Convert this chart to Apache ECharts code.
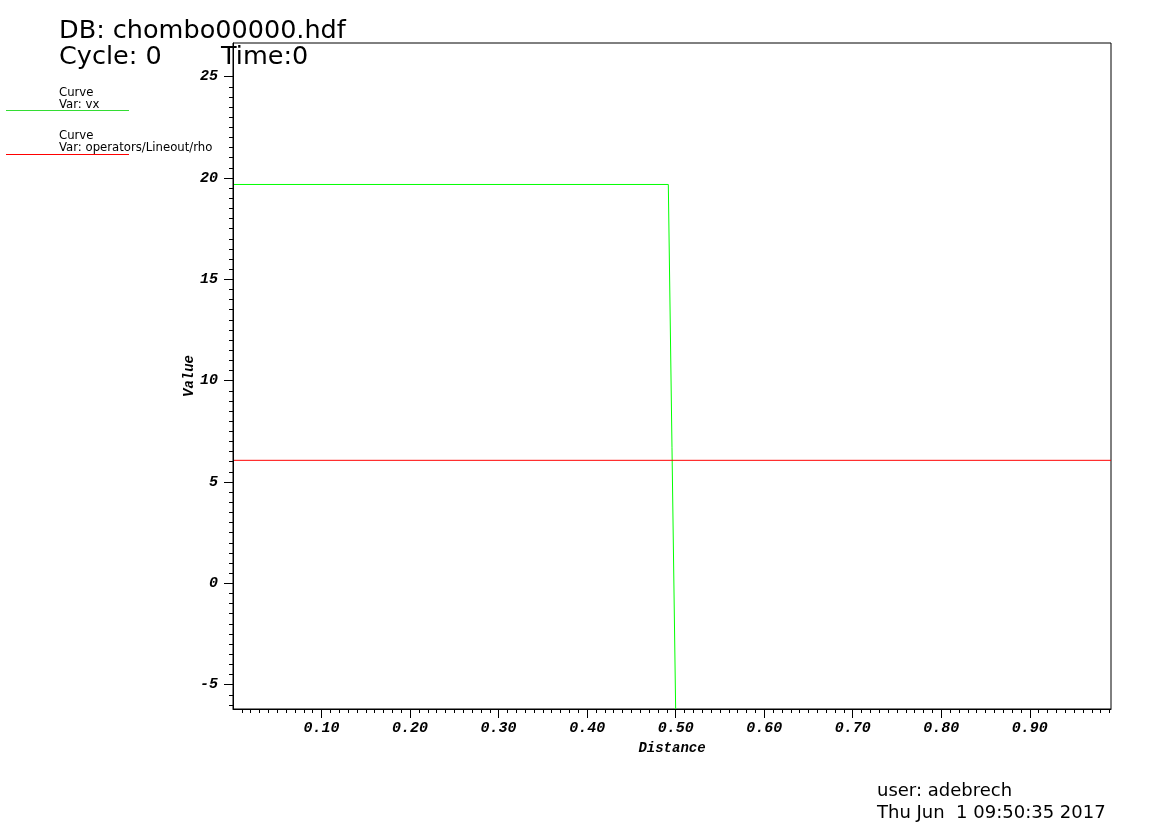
<!DOCTYPE html>
<html>
<head>
<meta charset="utf-8">
<script src="https://cdn.jsdelivr.net/npm/echarts@6/dist/echarts.min.js"></script>
<style>
html,body{margin:0;padding:0;background:#fff;}
#chart{width:1171px;height:834px;}
</style>
</head>
<body>
<div id="chart"></div>
<script>
// ---- data ----
const vxDistance = [0, 0.4917, 0.5, 0.9917];
const vxValues = [19.68, 19.68, -6.3, -6.3];
const rhoDistance = [0, 0.9917];
const rhoValues = [6.07, 6.07];

// ---- axes / ticks ----
const xMin = 0, xMax = 0.9917;
const yMin = -6.2, yMax = 26.66;
const xMajorTicks = [0.1, 0.2, 0.3, 0.4, 0.5, 0.6, 0.7, 0.8, 0.9];
const yMajorTicks = [-5, 0, 5, 10, 15, 20, 25];
const xMinorTicks = [];
for (let i = 1; i <= 99; i++) xMinorTicks.push(i / 100);
const yMinorTicks = [];
for (let i = -12; i <= 50; i++) yMinorTicks.push(i / 2);

// ---- texts ----
const titleLine1 = 'DB: chombo00000.hdf';
const cycleText = 'Cycle: 0';
const timeText = 'Time:0';
const legendHeads = ['Curve', 'Curve'];
const legendVars = ['Var: vx', 'Var: operators/Lineout/rho'];
const userText = 'user: adebrech';
const dateText = 'Thu Jun  1 09:50:35 2017';

const tickFont = {
  fontFamily: 'Liberation Mono', fontWeight: 'bold', fontStyle: 'italic',
  fontSize: 15, color: '#000'
};

const chart = echarts.init(document.getElementById('chart'), null, {renderer: 'canvas'});

const sans = 'DejaVu Sans';
function txt(x, y, text, size, color) {
  return {
    type: 'text', x: x, y: y, z: 10,
    style: {
      text: text, fill: color || '#000',
      font: size + 'px "' + sans + '"',
      verticalAlign: 'middle', align: 'left'
    }
  };
}

chart.setOption({
  backgroundColor: '#fff',
  animation: false,
  grid: {
    left: 233, right: 60, top: 43, bottom: 125,
    show: true, borderColor: '#000', borderWidth: 1,
    backgroundColor: 'transparent'
  },
  xAxis: [
    {
      type: 'value', min: xMin, max: xMax, position: 'bottom', z: 5,
      axisLine: {show: true, onZero: false, lineStyle: {color: '#000', width: 1}},
      axisTick: {show: true, inside: false, length: 4, customValues: xMinorTicks,
                 lineStyle: {color: '#000', width: 1}},
      axisLabel: {show: false},
      splitLine: {show: false},
      name: 'Distance', nameLocation: 'middle', nameGap: 32,
      nameTextStyle: {fontFamily: 'Liberation Mono', fontWeight: 'bold', fontStyle: 'italic',
                      fontSize: 14, color: '#000'}
    },
    {
      type: 'value', min: xMin, max: xMax, position: 'bottom', offset: 0, z: 5,
      axisLine: {show: false, onZero: false},
      axisTick: {show: true, inside: false, length: 9, customValues: xMajorTicks,
                 lineStyle: {color: '#000', width: 1}},
      axisLabel: Object.assign({show: true, margin: 12, customValues: xMajorTicks,
                 formatter: v => v.toFixed(2)}, tickFont),
      splitLine: {show: false}
    }
  ],
  yAxis: [
    {
      type: 'value', min: yMin, max: yMax, position: 'left', z: 5,
      axisLine: {show: true, onZero: false, lineStyle: {color: '#000', width: 1}},
      axisTick: {show: true, inside: false, length: 4, customValues: yMinorTicks,
                 lineStyle: {color: '#000', width: 1}},
      axisLabel: {show: false},
      splitLine: {show: false},
      name: 'Value', nameLocation: 'middle', nameGap: 37, nameRotate: 90,
      nameTextStyle: {fontFamily: 'Liberation Mono', fontWeight: 'bold', fontStyle: 'italic',
                      fontSize: 14, color: '#000'}
    },
    {
      type: 'value', min: yMin, max: yMax, position: 'left', offset: 0, z: 5,
      axisLine: {show: false, onZero: false},
      axisTick: {show: true, inside: false, length: 9, customValues: yMajorTicks,
                 lineStyle: {color: '#000', width: 1}},
      axisLabel: Object.assign({show: true, margin: 15, customValues: yMajorTicks,
                 formatter: v => String(v)}, tickFont),
      splitLine: {show: false}
    }
  ],
  series: [
    {
      name: 'vx', type: 'line', xAxisIndex: 0, yAxisIndex: 0,
      data: vxDistance.map((d, i) => [d, vxValues[i]]),
      showSymbol: false, symbol: 'none', z: 2, clip: true,
      lineStyle: {color: '#00ff00', width: 1}
    },
    {
      name: 'operators/Lineout/rho', type: 'line', xAxisIndex: 0, yAxisIndex: 0,
      data: rhoDistance.map((d, i) => [d, rhoValues[i]]),
      showSymbol: false, symbol: 'none', z: 2,
      lineStyle: {color: '#ff0000', width: 1}
    }
  ],
  graphic: [
    txt(59, 31, titleLine1, 25.5),
    txt(59, 57.5, cycleText, 25.5),
    txt(221, 57.5, timeText, 25.5),
    txt(59, 92.5, legendHeads[0], 11.7),
    txt(59, 105, legendVars[0], 11.7),
    {type: 'line', z: 10, shape: {x1: 6, y1: 110.5, x2: 129, y2: 110.5},
     style: {stroke: '#33dd33', lineWidth: 1}},
    txt(59, 135.8, legendHeads[1], 11.7),
    txt(59, 148.3, legendVars[1], 11.7),
    {type: 'line', z: 10, shape: {x1: 6, y1: 154.5, x2: 129, y2: 154.5},
     style: {stroke: '#ff0000', lineWidth: 1}},
    txt(877, 791.5, userText, 18),
    txt(877, 813.5, dateText, 18)
  ]
});
</script>
</body>
</html>
